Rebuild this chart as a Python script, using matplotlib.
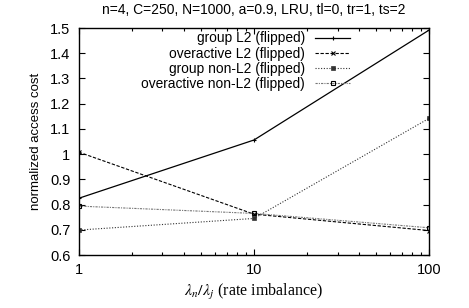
import matplotlib
matplotlib.use("Agg")
import matplotlib.pyplot as plt
from matplotlib.ticker import FixedLocator, NullFormatter

# data
rate = [1, 10, 100]
group_l2 = [0.825, 1.056, 1.492]
overactive_l2 = [1.008, 0.762, 0.697]
group_non_l2 = [0.699, 0.745, 1.142]
overactive_non_l2 = [0.794, 0.765, 0.708]

labels = ["group L2 (flipped)", "overactive L2 (flipped)",
          "group non-L2 (flipped)", "overactive non-L2 (flipped)"]
yticks = [0.6, 0.7, 0.8, 0.9, 1, 1.1, 1.2, 1.3, 1.4, 1.5]

plt.rcParams["font.family"] = ["Liberation Sans", "DejaVu Sans"]
plt.rcParams["mathtext.fontset"] = "stix"

fig = plt.figure(figsize=(4.69, 3.08), dpi=100)
ax = fig.add_axes([0.168, 0.172, 0.747, 0.737])

ax.plot(rate, group_l2, color="black", lw=0.9, ls="-", marker="+", ms=3, mew=0.8, label=labels[0])
ax.plot(rate, overactive_l2, color="black", lw=0.8, ls=(0, (3, 1.5)), marker="x", ms=2.5, mew=0.8, label=labels[1])
ax.plot(rate, group_non_l2, color="#333333", lw=0.8, ls=(0, (1, 1.5)), marker="s", ms=2.5, mew=0.5, label=labels[2])
ax.plot(rate, overactive_non_l2, color="#777777", lw=0.8, ls=(0, (2, 1, 1, 1)), marker="s", ms=3, mew=0.8,
        mfc="none", mec="black", label=labels[3])

ax.set_xscale("log")
ax.set_xlim(1, 100)
ax.set_ylim(0.6, 1.5)
ax.set_xticks(rate)
ax.set_xticklabels(["1", "10", "100"])
ax.xaxis.set_minor_locator(FixedLocator([i * d for d in (1, 10) for i in range(2, 10)]))
ax.xaxis.set_minor_formatter(NullFormatter())
ax.set_yticks(yticks)
ax.set_yticklabels(["0.6", "0.7", "0.8", "0.9", "1", "1.1", "1.2", "1.3", "1.4", "1.5"])

ax.tick_params(which="both", direction="in", top=True, right=True, labelsize=10.5, colors="black", pad=6)
ax.tick_params(which="major", length=4, width=0.8)
ax.tick_params(which="minor", length=2, width=0.8)
for s in ax.spines.values():
    s.set_linewidth(1.0)

ax.set_title("n=4, C=250, N=1000, a=0.9, LRU, tl=0, tr=1, ts=2", fontsize=10, pad=10)
ax.set_ylabel("normalized access cost", fontsize=9.5, labelpad=6)
ax.set_xlabel(r"$\lambda_n/\lambda_j$ (rate imbalance)", fontsize=11.5, family="Liberation Serif", labelpad=3)

leg = ax.legend(loc="upper right", bbox_to_anchor=(0.775, 0.985), markerfirst=False, frameon=False,
                fontsize=9.9, handlelength=2.55, handletextpad=0.73, labelspacing=0.08,
                borderpad=0, borderaxespad=0)
for t in leg.get_texts():
    t.set_ha("right")

fig.savefig("out.png", dpi=100)
